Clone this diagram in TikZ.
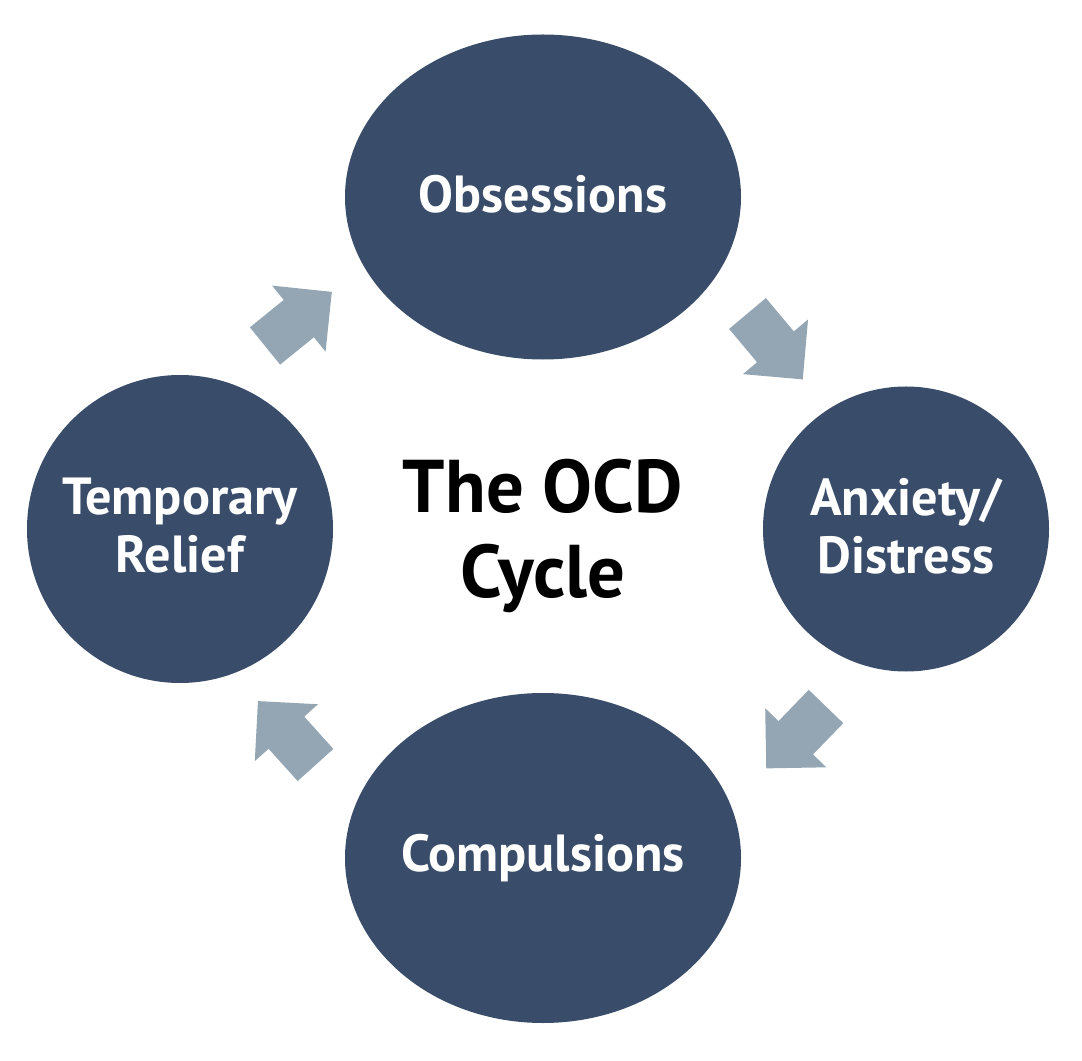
\documentclass[tikz,border=0pt]{standalone}
\usepackage{fontspec}
\setmainfont{PT Sans}
\usepackage{tikz}

\definecolor{stagefill}{HTML}{394D6A}
\definecolor{arrowfill}{HTML}{94A6B3}

\tikzset{
  stage/.style={ellipse, fill=stagefill, inner sep=0pt},
  stagetext/.style={text=white, align=center, inner sep=0pt,
    font=\fontsize{29.7}{33}\selectfont\bfseries},
  pics/blockarrow/.style={code={
    \fill[arrowfill] (0,-24) -- (43.5,-24) -- (43.5,-42.5) -- (86,0)
      -- (43.5,42.5) -- (43.5,24) -- (0,24) -- cycle;
  }}
}
\usetikzlibrary{shapes.geometric}

\begin{document}
\begin{tikzpicture}[x=0.2mm, y=0.2mm]
  \useasboundingbox (0,0) rectangle (1082,1060);
  % the four stages
  \node[stage, minimum width=79.2mm, minimum height=65mm] (obs) at (543,863) {};
  \node[stage, minimum width=57.2mm, minimum height=57mm] (anx) at (906,531) {};
  \node[stage, minimum width=79.2mm, minimum height=66mm] (comp) at (543,202) {};
  \node[stage, minimum width=61.2mm, minimum height=61.6mm] (relief) at (180,531) {};
  \node[stagetext] (obstext) at ([yshift=0.6mm]obs) {Obsessions};
  \node[stagetext] (anxtext) at ([yshift=0.6mm]anx) {Anxiety/\\Distress};
  \node[stagetext] (comptext) at (comp) {Compulsions};
  \node[stagetext] (relieftext) at ([yshift=0.6mm]relief) {Temporary\\Relief};
  % title in the middle
  \node[align=center, font=\fontsize{42.5}{48.5}\selectfont\bfseries] (title) at (543,524) {The OCD\\Cycle};
  % arrows round the cycle
  \pic[rotate=39] (toobs) at (265,714) {blockarrow};
  \pic[rotate=-50] (toanx) at (747.5,746.5) {blockarrow};
  \pic[rotate=-134] (tocomp) at (826,353.5) {blockarrow};
  \pic[rotate=132] (torelief) at (315.5,295) {blockarrow};
\end{tikzpicture}
\end{document}
